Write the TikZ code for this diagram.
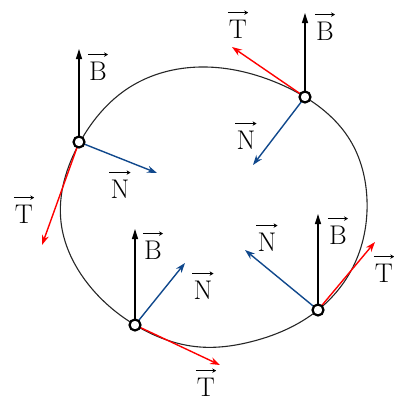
\documentclass[tikz,border=0pt]{standalone}
\usetikzlibrary{arrows.meta,hobby}
\definecolor{tred}{RGB}{255,0,0}
\definecolor{nblue}{RGB}{16,72,140}
\begin{document}
\begin{tikzpicture}[x=1pt,y=-1pt,
  curve/.style={line width=1.1pt,black!85},
  dot/.style={circle,draw=black,fill=white,line width=2.2pt,minimum size=11pt,inner sep=0pt},
  bvec/.style={line width=1.4pt,black,-{Triangle[length=10pt,width=6pt]}},
  tvec/.style={line width=1.4pt,tred,-{Stealth[length=10pt,width=7pt]}},
  nvec/.style={line width=1.4pt,nblue,-{Stealth[length=10pt,width=7pt]}},
  lab/.style={inner sep=0pt,font=\fontsize{27}{31}\selectfont},
  overarr/.style={line width=0.9pt,black,-{Stealth[length=4pt,width=4.5pt]}}]
\useasboundingbox (0,0) rectangle (394,405);
% trajectory
\draw[curve] (80,142) to[closed,curve through={(130,87) (200,67) (270,80) (305,97)
  (350,140) (367,200) (353,267) (318,310) (250,342) (200,347) (135,325)
  (85,280) (61,222)}] (80,142);
% points
\coordinate (p1) at (79,142);
\coordinate (p2) at (305,97);
\coordinate (p3) at (135,325);
\coordinate (p4) at (318,310);
% arrow tips
\coordinate (b1) at (79,49);
\coordinate (n1) at (157,173);
\coordinate (t1) at (42,245);
\coordinate (b2) at (305,13);
\coordinate (t2) at (232,47);
\coordinate (n2) at (253,165);
\coordinate (b3) at (135,229);
\coordinate (n3) at (185,263);
\coordinate (t3) at (220,365);
\coordinate (b4) at (318,214);
\coordinate (n4) at (245,250);
\coordinate (t4) at (375,242);
% vectors
\draw[bvec] (p1) -- (b1);
\draw[nvec] (p1) -- (n1);
\draw[tvec] (p1) -- (t1);
\draw[bvec] (p2) -- (b2);
\draw[tvec] (p2) -- (t2);
\draw[nvec] (p2) -- (n2);
\draw[bvec] (p3) -- (b3);
\draw[nvec] (p3) -- (n3);
\draw[tvec] (p3) -- (t3);
\draw[bvec] (p4) -- (b4);
\draw[nvec] (p4) -- (n4);
\draw[tvec] (p4) -- (t4);
% dots
\node[dot] (d1) at (p1) {};
\node[dot] (d2) at (p2) {};
\node[dot] (d3) at (p3) {};
\node[dot] (d4) at (p4) {};
% labels
\node[lab] (lb1) at (98,71) {B};
\node[lab] (ln1) at (120,189) {N};
\node[lab] (lt1) at (24,214) {T};
\node[lab] (lb2) at (325,31) {B};
\node[lab] (lt2) at (238,29) {T};
\node[lab] (ln2) at (246,140) {N};
\node[lab] (lb3) at (153,250) {B};
\node[lab] (ln3) at (203,290) {N};
\node[lab] (lt3) at (206,387) {T};
\node[lab] (ln4) at (267,242) {N};
\node[lab] (lb4) at (338,235) {B};
\node[lab] (lt4) at (384,273) {T};
\foreach \l in {lb1,ln1,lt1,lb2,lt2,ln2,lb3,ln3,lt3,ln4,lb4,lt4}
  \draw[overarr] ([shift={(-1,-7)}]\l.north west) -- ([shift={(1,-7)}]\l.north east);
\end{tikzpicture}
\end{document}
